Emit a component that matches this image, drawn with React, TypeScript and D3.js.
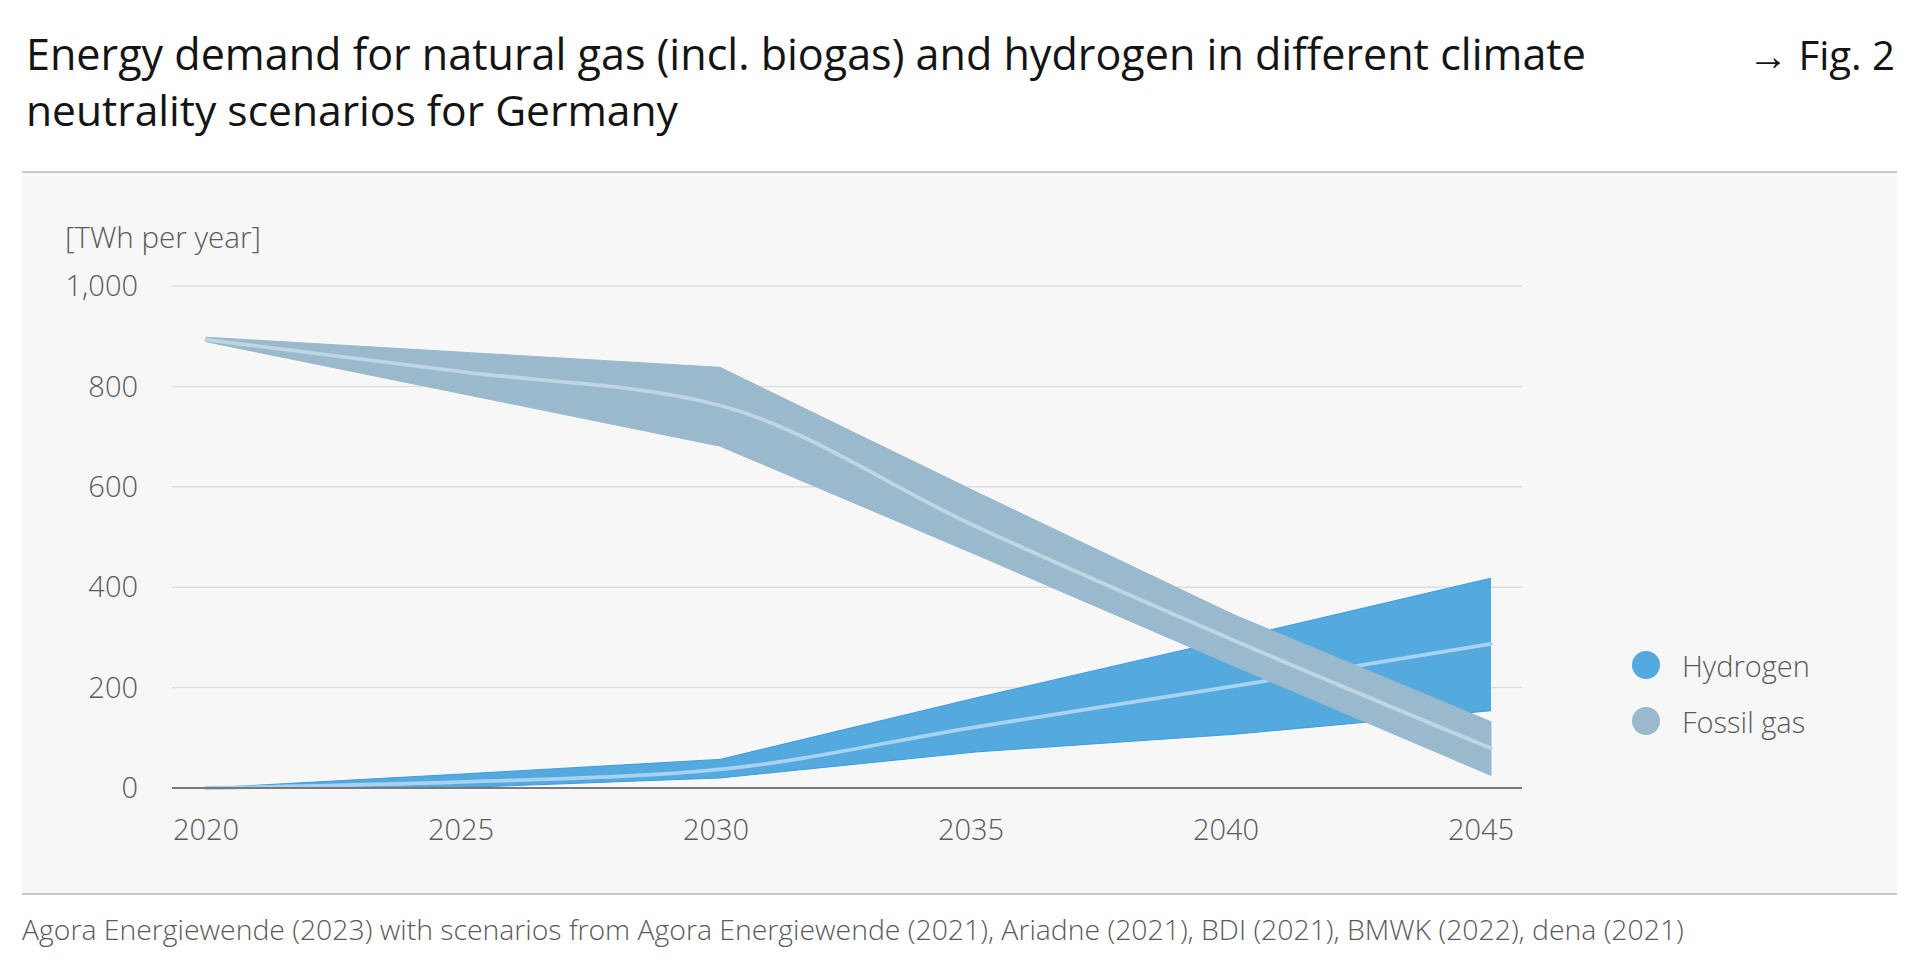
import React, { useLayoutEffect, useRef } from "react";
import * as d3 from "d3";

const years = [2020, 2025, 2030, 2035, 2040, 2045];
const hydrogenMin = [0, 1, 20, 72, 107, 154];
const hydrogenMax = [0, 28, 57, 180, 298, 418];
const hydrogenMedian = [0, 12, 37, 122, 203, 287];
const fossilMin = [889, 785, 681, 464, 243, 25];
const fossilMax = [898, 868, 838, 589, 345, 132];
const fossilMedian = [893, 829, 762, 520, 294, 79];
const yTicks = [0, 200, 400, 600, 800, 1000];
const xTicks = [2020, 2025, 2030, 2035, 2040, 2045];
const legendItems = ["Hydrogen", "Fossil gas"];
const titleLines = [
  "Energy demand for natural gas (incl. biogas) and hydrogen in different climate",
  "neutrality scenarios for Germany",
];
const figLabel = "\u2192 Fig. 2";
const unitLabel = "[TWh per year]";
const footer =
  "Agora Energiewende (2023) with scenarios from Agora Energiewende (2021), Ariadne (2021), BDI (2021), BMWK (2022), dena (2021)";

const FONT = "'Open Sans', sans-serif";
const H2_FILL = "#54A9DF";
const H2_EDGE = "#3b9be0";
const H2_LINE = "#A8D2F1";
const FG_FILL = "#9AB9CC";
const FG_LINE = "#BED5E3";

export default function App() {
  const svgRef = useRef<SVGSVGElement>(null);

  useLayoutEffect(() => {
    document.body.style.margin = "0";
    const svg = svgRef.current;
    if (!svg) return;
    svg.querySelectorAll<SVGTextElement>("[data-fit]").forEach((t) => {
      const target = parseFloat(t.getAttribute("data-fit") || "0");
      const fs = parseFloat(t.getAttribute("font-size") || "16");
      const len = t.getComputedTextLength();
      if (len > 0 && target > 0) t.setAttribute("font-size", String((fs * target) / len));
    });
  }, []);

  const x = d3.scaleLinear().domain([2020, 2045]).range([206, 1491]);
  const y = d3.scaleLinear().domain([0, 1000]).range([788, 286]);

  const idx = years.map((_, i) => i);
  const area = (lo: number[], hi: number[]) =>
    d3
      .area<number>()
      .x((i) => x(years[i]))
      .y0((i) => y(lo[i]))
      .y1((i) => y(hi[i]))(idx) || "";
  const edge = (v: number[]) =>
    d3
      .line<number>()
      .x((i) => x(years[i]))
      .y((i) => y(v[i]))(idx) || "";
  const median = (v: number[]) =>
    d3
      .line<number>()
      .curve(d3.curveMonotoneX)
      .x((i) => x(years[i]))
      .y((i) => y(v[i]))(idx) || "";

  return (
    <svg ref={svgRef} width={1920} height={971} style={{ display: "block" }} fontFamily={FONT}>
      <rect x={0} y={0} width={1920} height={971} fill="#ffffff" />
      {titleLines.map((t, i) => (
        <text key={t} x={26} y={70 + i * 56} fontSize={37} fill="#141414" data-fit={i === 0 ? 1560 : 652}>
          {t}
        </text>
      ))}
      <text x={1895} y={70} fontSize={37} fill="#141414" textAnchor="end" data-fit={147}>
        {figLabel}
      </text>
      <rect x={22} y={173} width={1875} height={720} fill="#F7F7F7" />
      <line x1={22} x2={1897} y1={172} y2={172} stroke="#c9c9c9" strokeWidth={2} />
      <line x1={22} x2={1897} y1={894} y2={894} stroke="#c9c9c9" strokeWidth={2} />

      <text x={65} y={248} fontSize={28} fontWeight={300} fill="#5a5a5a" data-fit={196}>
        {unitLabel}
      </text>

      {yTicks.map((v) => (
        <g key={v}>
          {v > 0 && (
            <line x1={172} x2={1522} y1={y(v)} y2={y(v)} stroke="#dedede" strokeWidth={1.5} />
          )}
          <text x={138} y={y(v)} dy="0.35em" fontSize={29} fontWeight={300} fill="#5a5a5a" textAnchor="end">
            {d3.format(",")(v)}
          </text>
        </g>
      ))}

      {xTicks.map((v) => (
        <text key={v} x={x(v) - (v - 2020) * 0.4} y={840} fontSize={29} fontWeight={300} fill="#5a5a5a" textAnchor="middle">
          {v}
        </text>
      ))}

      <g>
        <path d={area(hydrogenMin, hydrogenMax)} fill={H2_FILL} />
        <path d={edge(hydrogenMax)} fill="none" stroke={H2_EDGE} strokeWidth={1} />
        <path d={edge(hydrogenMin)} fill="none" stroke={H2_EDGE} strokeWidth={1} />
        <path d={median(hydrogenMedian)} fill="none" stroke={H2_LINE} strokeWidth={3.8} strokeLinecap="round" />
      </g>
      <g>
        <path d={area(fossilMin, fossilMax)} fill={FG_FILL} stroke={FG_FILL} strokeWidth={1} strokeLinejoin="round" />
        <path d={median(fossilMedian)} fill="none" stroke={FG_LINE} strokeWidth={3.8} strokeLinecap="round" />
      </g>

      <line x1={172} x2={1522} y1={y(0)} y2={y(0)} stroke="#7a7a7a" strokeWidth={2} />

      {legendItems.map((t, i) => (
        <g key={t}>
          <circle cx={1646} cy={665 + i * 56} r={14} fill={i === 0 ? H2_FILL : FG_FILL} />
          <text x={1682} y={677 + i * 56} fontSize={29} fontWeight={300} fill="#5a5a5a">
            {t}
          </text>
        </g>
      ))}

      <text x={22} y={940} fontSize={27} fontWeight={300} fill="#5a5a5a" data-fit={1663}>
        {footer}
      </text>
    </svg>
  );
}
